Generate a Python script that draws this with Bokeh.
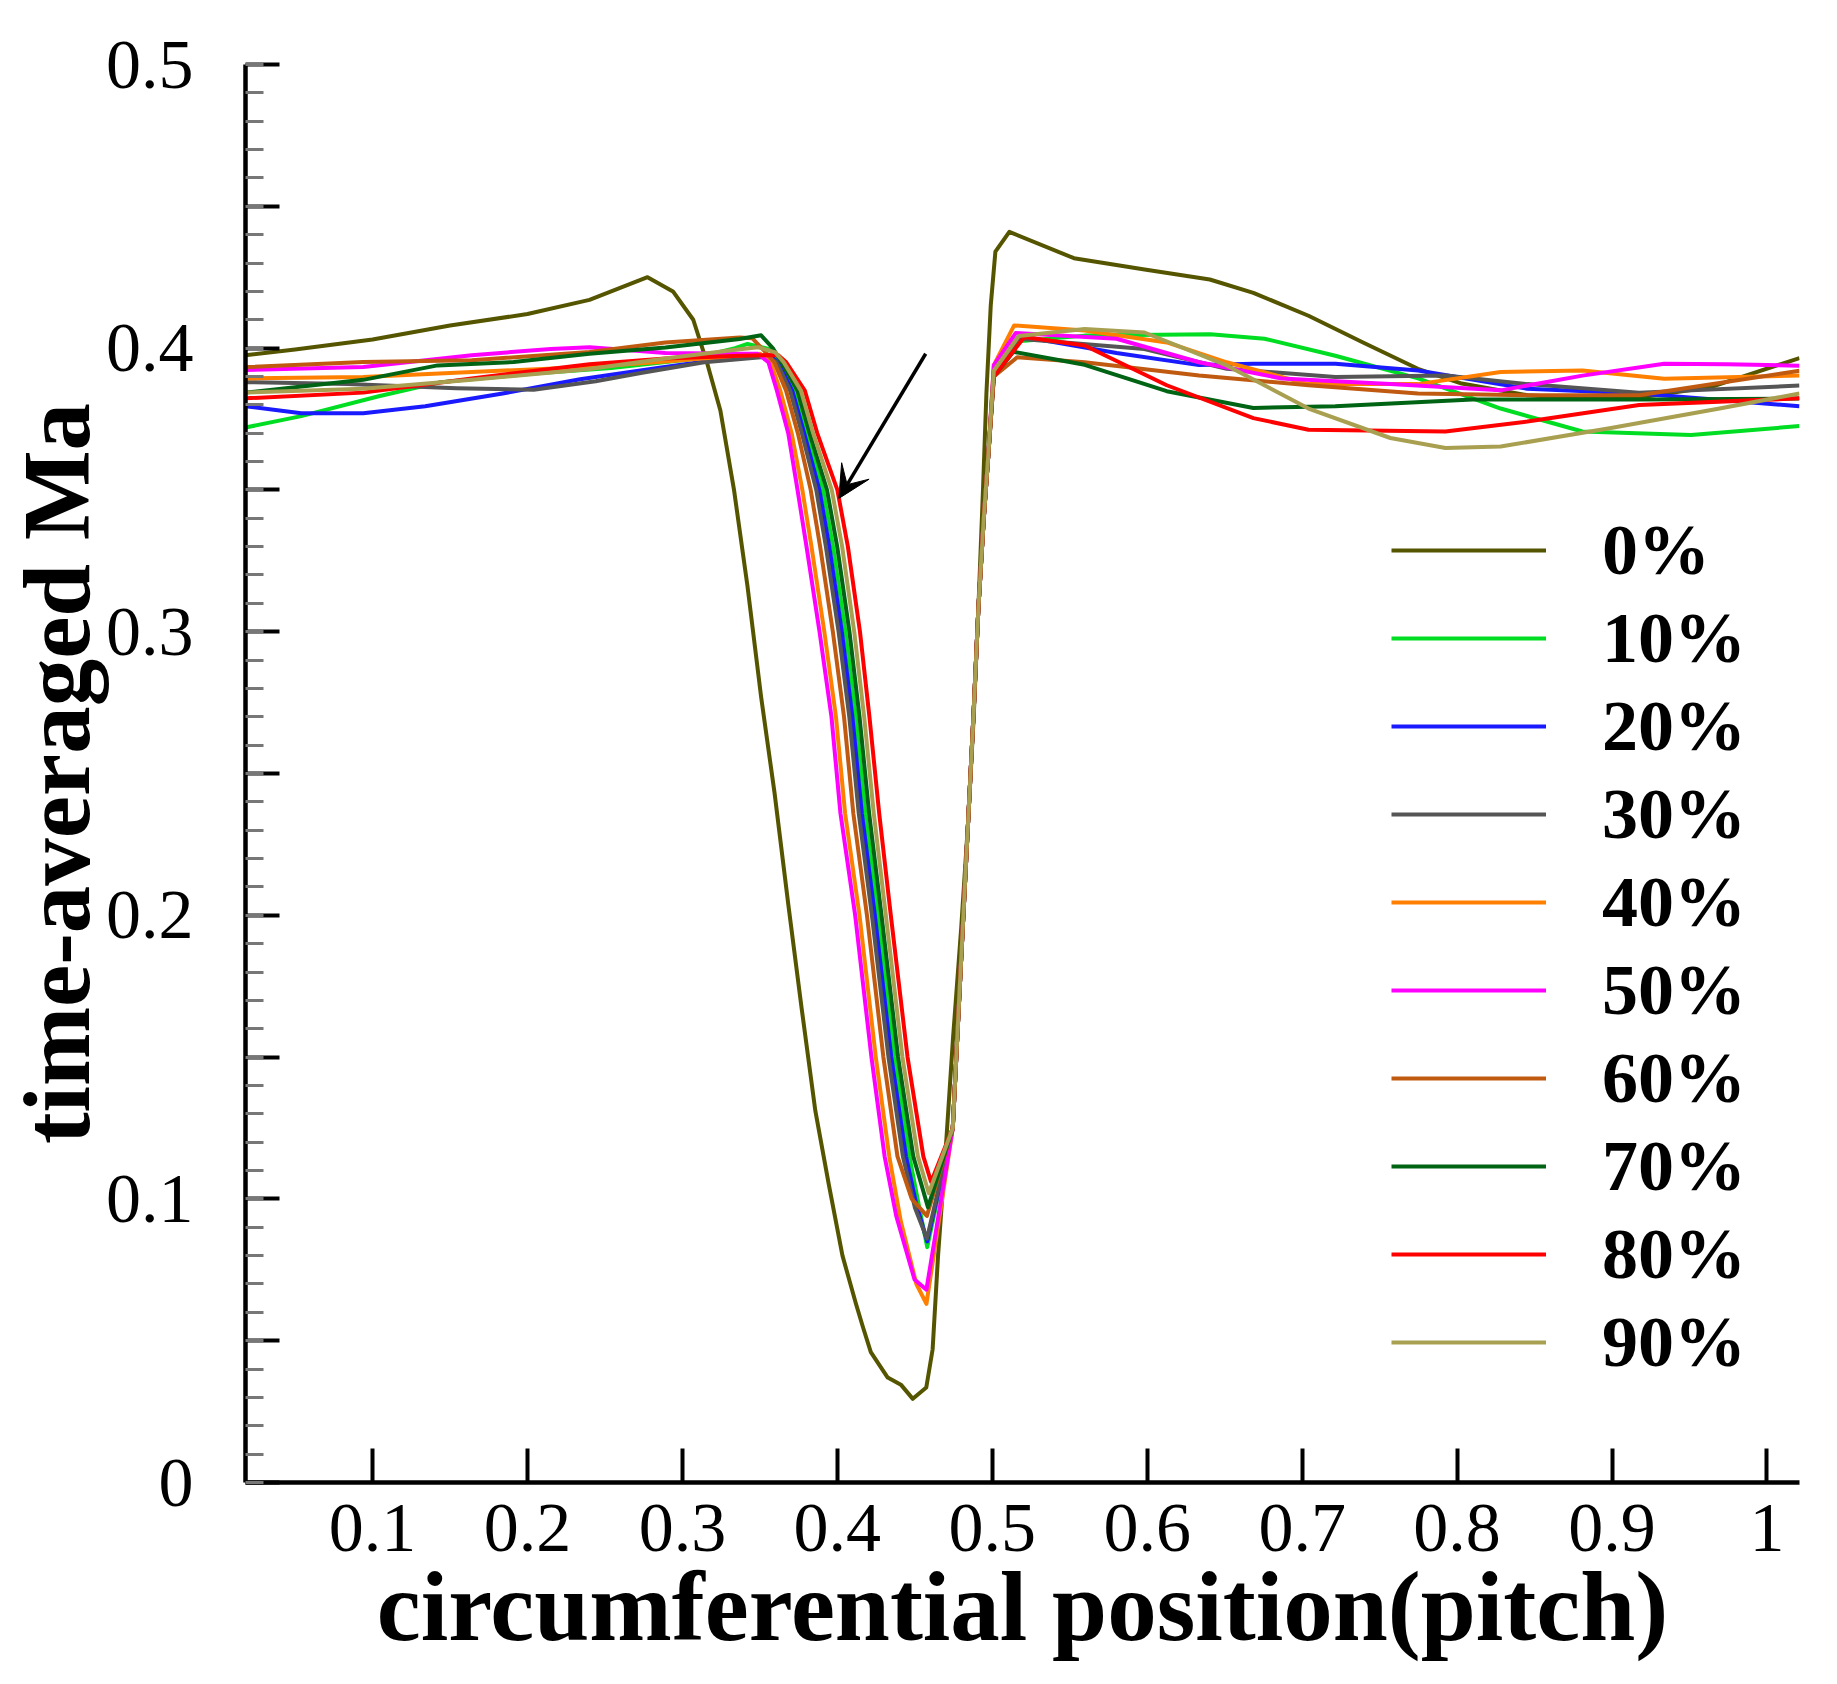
from bokeh.plotting import figure
from bokeh.models import FixedTicker, Legend, LegendItem, Arrow, VeeHead
from bokeh.embed import file_html
from bokeh.resources import INLINE

# ---- data ----
labels = ["0%", "10%", "20%", "30%", "40%", "50%", "60%", "70%", "80%", "90%"]
colors = ["#555500", "#00dd22", "#1a1aff", "#555555", "#ff8000",
          "#ff00ff", "#c05a10", "#006414", "#ff0000", "#a8a050"]

x0 = [0.018, 0.05, 0.1, 0.15, 0.2, 0.24, 0.2775, 0.2939, 0.307, 0.3158, 0.3245, 0.3333, 0.342,
      0.3508, 0.3595, 0.3683, 0.377, 0.3858, 0.3945, 0.4033, 0.412, 0.4164, 0.4216, 0.4325, 0.441,
      0.4487, 0.4574, 0.4615, 0.465, 0.47, 0.4747, 0.48, 0.4844, 0.488, 0.491, 0.494, 0.4962, 0.499,
      0.502, 0.511, 0.5527, 0.5983, 0.6404, 0.6685, 0.7041, 0.7393, 0.7747, 0.803, 0.8453, 0.8806,
      0.914, 0.9642, 1.021]
y0 = [0.3975, 0.3995, 0.403, 0.408, 0.412, 0.417, 0.425, 0.42, 0.41, 0.395, 0.378, 0.35, 0.316,
      0.277, 0.243, 0.204, 0.167, 0.131, 0.105, 0.08, 0.063, 0.055, 0.046, 0.037, 0.0345, 0.0295,
      0.0335, 0.047, 0.08, 0.118, 0.157, 0.196, 0.233, 0.27, 0.308, 0.35, 0.384, 0.415, 0.434, 0.441,
      0.4317, 0.4277, 0.4242, 0.4195, 0.4114, 0.402, 0.3927, 0.3875, 0.3834, 0.3822, 0.3823, 0.3863,
      0.3965]

x10 = [0.018, 0.054, 0.104, 0.144, 0.204, 0.254, 0.304, 0.334, 0.342, 0.357,
       0.3629, 0.3725, 0.3803, 0.3907, 0.3972, 0.4052, 0.4119, 0.418, 0.4262, 0.4369, 0.4465,
       0.4525, 0.458, 0.4745, 0.4795, 0.4844, 0.488, 0.491, 0.4945, 0.4974,
       0.501, 0.5151, 0.5596, 0.6407, 0.6757, 0.7214, 0.7748, 0.8281, 0.8809, 0.951, 1.021]
y10 = [0.372, 0.376, 0.383, 0.388, 0.391, 0.393, 0.396, 0.4, 0.4015, 0.3995,
       0.395, 0.385, 0.37, 0.35, 0.33, 0.3, 0.27, 0.236, 0.2, 0.15, 0.115,
       0.098, 0.083, 0.125, 0.18, 0.233, 0.272, 0.308, 0.34, 0.362,
       0.392, 0.4023, 0.4044, 0.4049, 0.4033, 0.3973, 0.3893, 0.3787, 0.3706, 0.3694, 0.3725]

x20 = [0.018, 0.054, 0.094, 0.134, 0.184, 0.234, 0.284, 0.337, 0.3558,
       0.3618, 0.3709, 0.3786, 0.3884, 0.3948, 0.4029, 0.4097, 0.4158, 0.4242, 0.4348, 0.4443,
       0.451, 0.458, 0.4745, 0.4795, 0.4844, 0.488, 0.491, 0.4945, 0.4974,
       0.501, 0.5172, 0.5802, 0.6335, 0.6685, 0.7214, 0.7748, 0.8453, 0.9175, 1.021]
y20 = [0.3795, 0.377, 0.377, 0.3795, 0.384, 0.389, 0.393, 0.397, 0.3975,
       0.395, 0.385, 0.37, 0.35, 0.33, 0.3, 0.27, 0.236, 0.2, 0.15, 0.115,
       0.098, 0.085, 0.125, 0.18, 0.233, 0.272, 0.308, 0.34, 0.362,
       0.392, 0.4043, 0.3983, 0.394, 0.3945, 0.3945, 0.3921, 0.3857, 0.384, 0.3795]

x30 = [0.018, 0.084, 0.154, 0.204, 0.244, 0.274, 0.314, 0.3548,
       0.3609, 0.3695, 0.3771, 0.3864, 0.3926, 0.4008, 0.4077, 0.4138, 0.4223, 0.433, 0.4423,
       0.45, 0.4578, 0.4745, 0.4795, 0.4844, 0.488, 0.491, 0.4945, 0.4974,
       0.501, 0.5172, 0.5982, 0.6513, 0.7214, 0.7925, 0.8453, 0.9175, 1.021]
y30 = [0.388, 0.3873, 0.3858, 0.3853, 0.3883, 0.3913, 0.395, 0.397,
       0.395, 0.385, 0.37, 0.35, 0.33, 0.3, 0.27, 0.236, 0.2, 0.15, 0.115,
       0.097, 0.086, 0.125, 0.18, 0.233, 0.272, 0.308, 0.34, 0.362,
       0.391, 0.4033, 0.3997, 0.3927, 0.3898, 0.3903, 0.3873, 0.3843, 0.3868]

x40 = [0.018, 0.094, 0.164, 0.239, 0.289, 0.3502,
       0.3569, 0.3632, 0.3705, 0.3774, 0.3833, 0.3916, 0.3991, 0.405, 0.4143, 0.4248, 0.4335,
       0.441, 0.451, 0.4575, 0.4745, 0.4795, 0.4844, 0.488, 0.491, 0.4945, 0.4974,
       0.501, 0.5141, 0.5596, 0.6126, 0.6513, 0.7041, 0.7748, 0.8281, 0.8809, 0.9337, 1.021]
y40 = [0.3893, 0.3898, 0.3916, 0.3933, 0.3953, 0.398,
       0.395, 0.385, 0.37, 0.35, 0.33, 0.3, 0.27, 0.236, 0.2, 0.15, 0.115,
       0.092, 0.07, 0.063, 0.125, 0.18, 0.233, 0.272, 0.308, 0.34, 0.362,
       0.394, 0.408, 0.4062, 0.402, 0.395, 0.3873, 0.3873, 0.3916, 0.3921, 0.3892, 0.3903]

x50 = [0.018, 0.094, 0.164, 0.215, 0.24, 0.264, 0.289, 0.337, 0.3486,
       0.3555, 0.361, 0.3683, 0.3743, 0.3801, 0.3885, 0.3962, 0.402, 0.4115, 0.422, 0.4305,
       0.438, 0.4498, 0.4575, 0.4745, 0.4795, 0.4844, 0.488, 0.491, 0.4945, 0.4974,
       0.501, 0.5151, 0.5802, 0.6335, 0.6868, 0.7569, 0.8281, 0.8809, 0.9337, 0.9744, 1.021]
y50 = [0.3923, 0.3933, 0.3975, 0.3997, 0.4003, 0.3993, 0.3983, 0.398, 0.398,
       0.395, 0.385, 0.37, 0.35, 0.33, 0.3, 0.27, 0.236, 0.2, 0.15, 0.115,
       0.094, 0.0716, 0.068, 0.125, 0.18, 0.233, 0.272, 0.308, 0.34, 0.362,
       0.394, 0.4053, 0.4033, 0.395, 0.3893, 0.3873, 0.3851, 0.3903, 0.3945, 0.3943, 0.3938]

x60 = [0.018, 0.094, 0.164, 0.24, 0.289, 0.337, 0.345, 0.3529,
       0.3593, 0.3669, 0.3745, 0.3828, 0.3889, 0.3971, 0.4043, 0.4103, 0.4191, 0.4297, 0.4388,
       0.448, 0.4578, 0.4745, 0.4795, 0.4844, 0.488, 0.491, 0.4945, 0.4974,
       0.501, 0.5161, 0.5596, 0.6335, 0.7041, 0.7748, 0.8453, 0.9175, 1.021]
y60 = [0.3933, 0.3951, 0.3957, 0.3986, 0.402, 0.4037, 0.4035, 0.399,
       0.395, 0.385, 0.37, 0.35, 0.33, 0.3, 0.27, 0.236, 0.2, 0.15, 0.115,
       0.1, 0.094, 0.125, 0.18, 0.233, 0.272, 0.308, 0.34, 0.362,
       0.39, 0.3968, 0.395, 0.3903, 0.3869, 0.384, 0.3834, 0.3834, 0.392]

x70 = [0.018, 0.094, 0.142, 0.191, 0.24, 0.289, 0.337, 0.3508, 0.3583,
       0.364, 0.3743, 0.3821, 0.3933, 0.3999, 0.4078, 0.4143, 0.4205, 0.4285, 0.4392, 0.449,
       0.4585, 0.4745, 0.4795, 0.4844, 0.488, 0.491, 0.4945, 0.4974,
       0.501, 0.5136, 0.5596, 0.6126, 0.6685, 0.7214, 0.8098, 0.9175, 1.021]
y70 = [0.3843, 0.3888, 0.3939, 0.3951, 0.398, 0.4002, 0.4032, 0.4045, 0.4,
       0.395, 0.385, 0.37, 0.35, 0.33, 0.3, 0.27, 0.236, 0.2, 0.15, 0.115,
       0.097, 0.125, 0.18, 0.233, 0.272, 0.308, 0.34, 0.362,
       0.39, 0.3987, 0.3941, 0.3848, 0.3789, 0.3795, 0.3819, 0.3819, 0.3822]

x80 = [0.018, 0.094, 0.164, 0.24, 0.289, 0.337, 0.3617,
       0.367, 0.379, 0.387, 0.4, 0.4068, 0.4146, 0.4207, 0.427, 0.4345, 0.4453, 0.4555,
       0.4605, 0.4745, 0.4795, 0.4844, 0.488, 0.491, 0.4945, 0.4974,
       0.501, 0.5207, 0.5596, 0.6126, 0.6685, 0.7041, 0.7925, 0.8453, 0.9175, 1.021]
y80 = [0.3823, 0.3843, 0.3893, 0.3943, 0.3963, 0.3973, 0.3976,
       0.395, 0.385, 0.37, 0.35, 0.33, 0.3, 0.27, 0.236, 0.2, 0.15, 0.115,
       0.106, 0.125, 0.18, 0.233, 0.272, 0.308, 0.34, 0.362,
       0.39, 0.4039, 0.4009, 0.3869, 0.3753, 0.3712, 0.3706, 0.3741, 0.3799, 0.3823]

x90 = [0.018, 0.094, 0.164, 0.24, 0.289, 0.337, 0.349, 0.3599,
       0.3654, 0.3765, 0.3844, 0.3964, 0.4031, 0.4109, 0.4173, 0.4235, 0.4313, 0.442, 0.452,
       0.459, 0.4745, 0.4795, 0.4844, 0.488, 0.491, 0.4945, 0.4974,
       0.501, 0.5172, 0.5596, 0.5982, 0.6513, 0.7041, 0.7569, 0.7925, 0.8281, 0.8993, 0.9694, 1.021]
y90 = [0.3843, 0.3857, 0.3888, 0.3926, 0.3963, 0.3996, 0.4003, 0.3985,
       0.395, 0.385, 0.37, 0.35, 0.33, 0.3, 0.27, 0.236, 0.2, 0.15, 0.115,
       0.102, 0.125, 0.18, 0.233, 0.272, 0.308, 0.34, 0.362,
       0.392, 0.4043, 0.4067, 0.4055, 0.3939, 0.3787, 0.3683, 0.3648, 0.3653, 0.3718, 0.3787, 0.384]

xs = [x0, x10, x20, x30, x40, x50, x60, x70, x80, x90]
ys = [y0, y10, y20, y30, y40, y50, y60, y70, y80, y90]

x_ticks = [0.1, 0.2, 0.3, 0.4, 0.5, 0.6, 0.7, 0.8, 0.9, 1.0]
x_tick_labels = ["0.1", "0.2", "0.3", "0.4", "0.5", "0.6", "0.7", "0.8", "0.9", "1"]
y_ticks = [0, 0.05, 0.1, 0.15, 0.2, 0.25, 0.3, 0.35, 0.4, 0.45, 0.5]
y_tick_labels = ["0", "", "0.1", "", "0.2", "", "0.3", "", "0.4", "", "0.5"]
y_minor = [i / 100 for i in range(51)]

arrow_start = (0.457, 0.398)
arrow_end = (0.401, 0.347)

SERIF = "Liberation Serif"

p = figure(frame_width=1554, frame_height=1418, x_range=(0.018, 1.021), y_range=(0, 0.5),
           output_backend="svg", toolbar_location=None,
           min_border_left=238, min_border_right=27, min_border_top=64, min_border_bottom=170)
p.outline_line_color = None
p.xgrid.visible = False
p.ygrid.visible = False

items = []
for lab, col, xx, yy in zip(labels, colors, xs, ys):
    r = p.line(xx, yy, line_color=col, line_width=4, line_join="round")
    items.append(LegendItem(label=lab, renderers=[r]))

p.add_layout(Arrow(end=VeeHead(size=32, fill_color="black", line_color="black"),
                   x_start=arrow_start[0], y_start=arrow_start[1],
                   x_end=arrow_end[0], y_end=arrow_end[1],
                   line_width=3.5, line_color="black"))

leg = Legend(items=items, location=(1146, 96), orientation="vertical")
leg.glyph_width = 155
leg.glyph_height = 88
leg.label_height = 88
leg.label_width = 150
leg.spacing = 0
leg.padding = 0
leg.margin = 0
leg.label_standoff = 56
leg.label_text_font = SERIF
leg.label_text_font_style = "bold"
leg.label_text_font_size = "72px"
leg.label_text_color = "black"
leg.border_line_color = None
leg.background_fill_alpha = 0
p.add_layout(leg)

# x axis
p.xaxis.ticker = FixedTicker(ticks=x_ticks)
p.xaxis.major_label_overrides = dict(zip(x_ticks, x_tick_labels))
p.xaxis.axis_label = "circumferential position(pitch)"
# y axis
p.yaxis.ticker = FixedTicker(ticks=y_ticks, minor_ticks=y_minor)
p.yaxis.major_label_overrides = dict(zip(y_ticks, y_tick_labels))
p.yaxis.axis_label = "time-averaged Ma"

for ax in (p.xaxis, p.yaxis):
    ax.axis_line_width = 4.5
    ax.axis_line_color = "black"
    ax.major_tick_in = 34
    ax.major_tick_out = 0
    ax.major_tick_line_width = 4
    ax.major_tick_line_color = "black"
    ax.major_label_text_font = SERIF
    ax.major_label_text_font_size = "70px"
    ax.major_label_text_color = "black"
    ax.axis_label_text_font = SERIF
    ax.axis_label_text_font_style = "bold"
    ax.axis_label_text_color = "black"

p.xaxis.minor_tick_line_color = None
p.xaxis.major_label_standoff = 22
p.xaxis.axis_label_standoff = -2
p.xaxis.axis_label_text_font_size = "99px"
p.xaxis.axis_label_text_line_height = 0.95

p.yaxis.minor_tick_in = 18
p.yaxis.minor_tick_out = 0
p.yaxis.minor_tick_line_width = 3
p.yaxis.minor_tick_line_color = "#777777"
p.yaxis.major_label_standoff = 52
p.yaxis.axis_label_standoff = -7
p.yaxis.axis_label_text_font_size = "95px"
p.yaxis.axis_label_text_line_height = 0.85

open("out.html", "w").write(file_html(p, INLINE))
